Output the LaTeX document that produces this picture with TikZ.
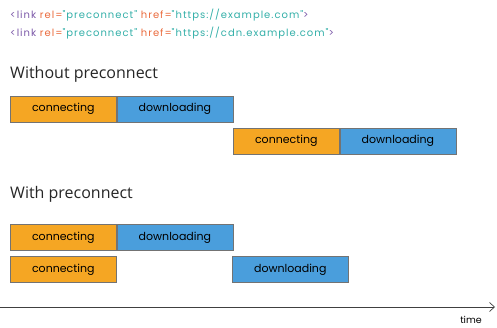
\documentclass[tikz,border=0pt]{standalone}
\usepackage{fontspec}
\setmainfont{Poppins}
\newfontfamily\headfont{Open Sans}
\newfontfamily\codefont[LetterSpace=10]{Poppins}
\usetikzlibrary{arrows.meta,positioning}
\definecolor{conncol}{HTML}{F5A623}
\definecolor{downcol}{HTML}{4A9EDC}
\definecolor{tagcol}{HTML}{7B58A8}
\definecolor{attrcol}{HTML}{EA6A3C}
\definecolor{valcol}{HTML}{33AFA8}
\begin{document}
\begin{tikzpicture}[
		x=1pt,y=-1pt,
		phase/.style={draw=black!55,line width=0.6pt,minimum height=26pt,
			inner sep=0pt,anchor=north west,font=\fontsize{11}{13}\selectfont},
		conn/.style={phase,fill=conncol,minimum width=106pt},
		down/.style={phase,fill=downcol,minimum width=116pt},
		head/.style={anchor=west,inner sep=0pt,text=black!85,font=\headfont\fontsize{16}{19}\selectfont},
		code/.style={anchor=west,inner sep=0pt,font=\codefont\fontsize{10}{12}\selectfont},
		axis/.style={line width=0.7pt,black!75,-{Straight Barb[length=5pt,width=9pt]}},
		lab/.style={font=\fontsize{9.5}{11}\selectfont,inner sep=0pt}
		]
		\useasboundingbox (0,0) rectangle (497,328);
		% ===== Link tags =====
		\node[code] (tagA) at (10,15) {\textcolor{tagcol}{<link} \textcolor{attrcol}{rel=}\textcolor{valcol}{"preconnect"} \textcolor{attrcol}{href=}\textcolor{valcol}{"https://example.com"}\textcolor{tagcol}{>}};
		\node[code] (tagB) at (10,33) {\textcolor{tagcol}{<link} \textcolor{attrcol}{rel=}\textcolor{valcol}{"preconnect"} \textcolor{attrcol}{href=}\textcolor{valcol}{"https://cdn.example.com"}\textcolor{tagcol}{>}};
		% ===== Without preconnect =====
		\node[head] (without) at (10,74) {Without preconnect};
		\node[conn] (connA) at (10,96) {connecting};
		\node[down,right=0pt of connA] (downA) {downloading};
		\node[conn] (connB) at (233,128) {connecting};
		\node[down,right=0pt of connB] (downB) {downloading};
		% ===== With preconnect =====
		\node[head] (with) at (10,194) {With preconnect};
		\node[conn] (connC) at (10,224) {connecting};
		\node[down,right=0pt of connC] (downC) {downloading};
		\node[conn] (connD) at (10,256) {connecting};
		\node[down] (downD) at (232,256) {downloading};
		% ===== Time axis =====
		\coordinate (tstart) at (0,307);
		\coordinate (tend) at (495,307);
		\draw[axis] (tstart) -- (tend);
		\node[lab,anchor=north] (time) at (471,316) {time};
\end{tikzpicture}
\end{document}
